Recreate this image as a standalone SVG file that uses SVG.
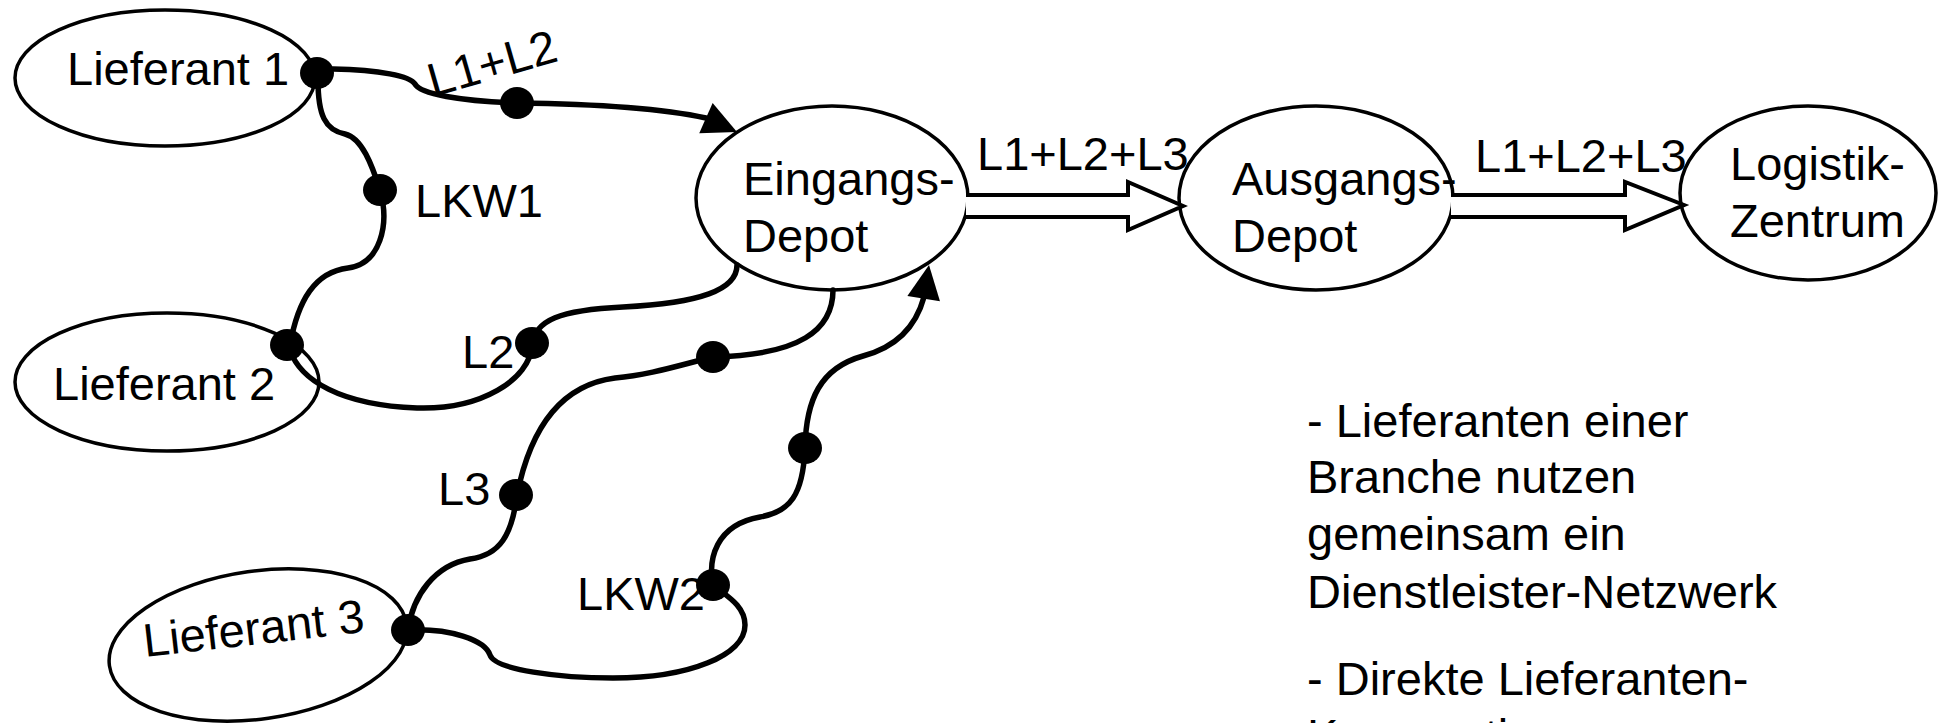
<svg xmlns="http://www.w3.org/2000/svg" xmlns:xlink="http://www.w3.org/1999/xlink" width="1941" height="723" viewBox="0 0 1941 723">
<style>
.node{fill:#fff;stroke:#000;stroke-width:3.5}
.t{font-family:"Liberation Sans",Arial,sans-serif;font-size:47px;fill:#000}
.c{fill:none;stroke:#000;stroke-width:5.5;stroke-linecap:round}
.dbl{fill:#fff;stroke:#000;stroke-width:4;stroke-linejoin:miter}
.dot{fill:#000}
</style>
<defs>
<path id="ah" d="M0,0 L-34,-16.5 L-34,16.5 Z" fill="#000"/>
</defs>
<rect width="1941" height="723" fill="#fff"/>
<g id="lieferant1"><ellipse class="node" cx="165" cy="78" rx="150" ry="68"/><text class="t" x="67" y="85">Lieferant 1</text></g>
<g id="lieferant2"><ellipse class="node" cx="167" cy="382" rx="152" ry="69"/><text class="t" x="53" y="400">Lieferant 2</text></g>
<g id="lieferant3"><ellipse class="node" cx="258" cy="645" rx="150" ry="74" transform="rotate(-8 258 645)"/><text class="t" x="145" y="657" transform="rotate(-6.5 145 657)">Lieferant 3</text></g>
<g id="eingangs"><ellipse class="node" cx="832" cy="198" rx="136" ry="92"/><text class="t" x="743" y="195">Eingangs-</text><text class="t" x="743" y="252">Depot</text></g>
<g id="ausgangs"><ellipse class="node" cx="1316" cy="198" rx="137" ry="92"/><text class="t" x="1232" y="195">Ausgangs-</text><text class="t" x="1232" y="252">Depot</text></g>
<g id="logistik"><ellipse class="node" cx="1808" cy="193" rx="128" ry="87"/><text class="t" x="1730" y="180">Logistik-</text><text class="t" x="1730" y="237">Zentrum</text></g>
<g id="connectors">
<path class="c" d="M333,69 C380,70 410,76 415,84 C420,94 460,101 517,103 C600,104 660,108 706,118"/>
<use xlink:href="#ah" href="#ah" transform="translate(737,132) rotate(24)"/>
<path class="c" d="M318,80 C318,115 325,130 345,134 C362,138 372,165 380,190 C390,225 380,264 348,268 C315,272 298,300 290,345"/>
<path class="c" d="M290,350 C300,380 340,405 417,408 C480,410 530,380 532,345 C535,320 560,310 623,307 C700,303 737,290 737,265"/>
<path class="c" d="M833,290 C833,330 800,355 713,357 C680,365 650,375 615,378 C560,385 530,430 517,495 C512,535 500,555 470,559 C435,565 413,595 408,630"/>
<path class="c" d="M408,630 C450,628 485,640 490,655 C495,670 560,678 613,678 C690,678 745,655 745,625 C745,605 725,595 713,585 C708,560 715,525 760,517 C790,512 803,495 805,448 C806,400 820,368 863,356 C893,348 915,330 924,297"/>
<use xlink:href="#ah" href="#ah" transform="translate(929,265) rotate(-81)"/>
<path class="dbl" d="M966,195 H1128 V182 L1183,206 L1128,230 V217 H966"/>
<path class="dbl" d="M1451,195 H1625 V182 L1684,205 L1625,230 V217 H1451"/>
<ellipse class="dot" cx="317" cy="73" rx="17" ry="16"/>
<ellipse class="dot" cx="517" cy="103" rx="17" ry="16"/>
<ellipse class="dot" cx="380" cy="190" rx="17" ry="16"/>
<ellipse class="dot" cx="287" cy="345" rx="17" ry="16"/>
<ellipse class="dot" cx="532" cy="343" rx="17" ry="16"/>
<ellipse class="dot" cx="713" cy="357" rx="17" ry="16"/>
<ellipse class="dot" cx="516" cy="495" rx="17" ry="16"/>
<ellipse class="dot" cx="408" cy="630" rx="17" ry="16"/>
<ellipse class="dot" cx="713" cy="585" rx="17" ry="16"/>
<ellipse class="dot" cx="805" cy="448" rx="17" ry="16"/>
<text class="t" x="433" y="97" transform="rotate(-16 433 97)">L1+L2</text>
<text class="t" x="415" y="217">LKW1</text>
<text class="t" x="462" y="368">L2</text>
<text class="t" x="438" y="505">L3</text>
<text class="t" x="577" y="610">LKW2</text>
<text class="t" x="977" y="170">L1+L2+L3</text>
<text class="t" x="1475" y="172">L1+L2+L3</text>
</g>
<g id="notes">
<text class="t" x="1307" y="437">- Lieferanten einer</text>
<text class="t" x="1307" y="493">Branche nutzen</text>
<text class="t" x="1307" y="550">gemeinsam ein</text>
<text class="t" x="1307" y="608">Dienstleister-Netzwerk</text>
<text class="t" x="1307" y="695">- Direkte Lieferanten-</text>
<text class="t" x="1307" y="752">Kooperation</text>
</g>
</svg>
